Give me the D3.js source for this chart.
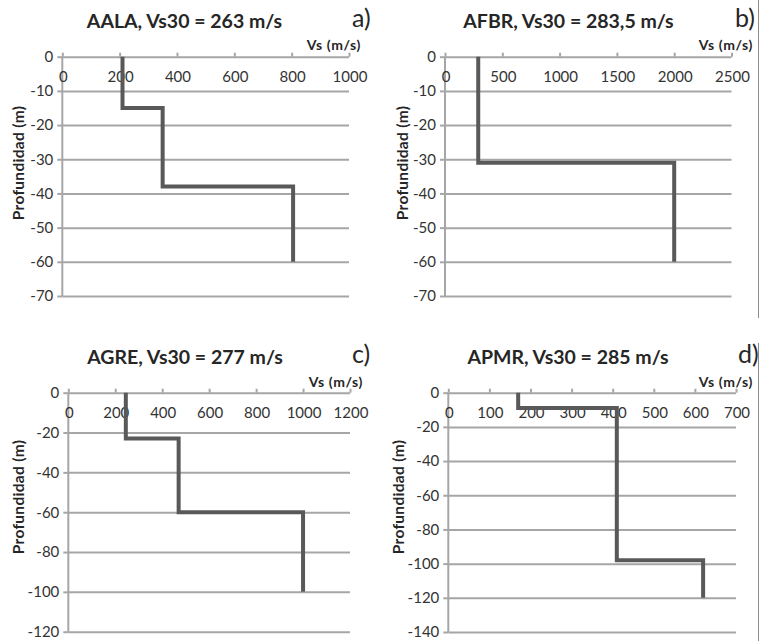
<!DOCTYPE html>
<html><head><meta charset="utf-8">
<script src="https://cdn.jsdelivr.net/npm/d3@7"></script>
<style>
body{margin:0;background:#fff;}
svg{display:block;}
text{font-family:Lato,"Open Sans",sans-serif;}
</style></head>
<body>
<svg id="chart" width="761" height="641"></svg>
<script>
// ---- data ----
const titles = ["AALA, Vs30 = 263 m/s", "AFBR, Vs30 = 283,5 m/s", "AGRE, Vs30 = 277 m/s", "APMR, Vs30 = 285 m/s"];
const panelLetters = ["a)", "b)", "c)", "d)"];
const xAxisTitle = "Vs (m/s)";
const yAxisTitle = "Profundidad (m)";

// layer boundaries (depth, m, negative down) and shear velocities per layer
const aalaDepths = [0, -15, -38, -60];
const aalaVs = [210, 350, 805];
const afbrDepths = [0, -31, -60];
const afbrVs = [290, 2000];
const agreDepths = [0, -23, -60, -100];
const agreVs = [245, 470, 1000];
const apmrDepths = [0, -9, -98, -120];
const apmrVs = [170, 410, 620];

// axis tick values
const xTicksA = [0, 200, 400, 600, 800, 1000];
const xTicksB = [0, 500, 1000, 1500, 2000, 2500];
const xTicksC = [0, 200, 400, 600, 800, 1000, 1200];
const xTicksD = [0, 100, 200, 300, 400, 500, 600, 700];
const yTicksAB = [0, -10, -20, -30, -40, -50, -60, -70];
const yTicksC = [0, -20, -40, -60, -80, -100, -120];
const yTicksD = [0, -20, -40, -60, -80, -100, -120, -140];

// ---- layout ----
const panels = [
  {depths: aalaDepths, vs: aalaVs, xt: xTicksA, yt: yTicksAB, x0: 62.3, x1: 349, y0: 56.7, y1: 296,
   title: [184.5, 28], letter: [352, 27], xlab: [361, 50], ylab: [18, 163]},
  {depths: afbrDepths, vs: afbrVs, xt: xTicksB, yt: yTicksAB, x0: 445, x1: 731.5, y0: 56.7, y1: 296,
   title: [568.5, 28], letter: [735, 27], xlab: [753, 50], ylab: [401.7, 163]},
  {depths: agreDepths, vs: agreVs, xt: xTicksC, yt: yTicksC, x0: 68.3, x1: 350, y0: 392.7, y1: 631.7,
   title: [185, 364], letter: [352, 363], xlab: [363, 387], ylab: [18, 497]},
  {depths: apmrDepths, vs: apmrVs, xt: xTicksD, yt: yTicksD, x0: 448.3, x1: 736, y0: 392.7, y1: 632,
   title: [568, 364], letter: [738, 363], xlab: [753, 387], ylab: [398, 497]}
];

const svg = d3.select("#chart");
const gridColor = "#a6a6a6";
const lineColor = "#595959";
const textColor = "#262626";

panels.forEach((p, i) => {
  const g = svg.append("g");
  const x = d3.scaleLinear().domain(d3.extent(p.xt)).range([p.x0, p.x1]);
  const y = d3.scaleLinear().domain([d3.min(p.yt), 0]).range([p.y1, p.y0]);

  // horizontal gridlines + left ticks (y axis)
  const yAxis = d3.axisLeft(y).tickValues(p.yt).tickSize(-(p.x1 - p.x0)).tickPadding(9).tickFormat(d => String(d));
  const ya = g.append("g").attr("transform", `translate(${p.x0},0)`).call(yAxis);
  ya.select(".domain").remove();
  ya.selectAll(".tick line").attr("stroke", gridColor).attr("stroke-width", 2);
  ya.selectAll(".tick").append("line").attr("x1", -5).attr("x2", 0).attr("stroke", gridColor).attr("stroke-width", 2);
  ya.selectAll(".tick text").attr("fill", "#333").style("font-size", "15px").style("font-family", "Lato, sans-serif");

  // vertical axis line
  g.append("line").attr("x1", p.x0).attr("x2", p.x0).attr("y1", p.y0).attr("y2", p.y1)
    .attr("stroke", gridColor).attr("stroke-width", 2);

  // top x axis ticks
  const xAxis = d3.axisTop(x).tickValues(p.xt).tickSize(4).tickFormat("");
  const xa = g.append("g").attr("transform", `translate(0,${p.y0})`).call(xAxis);
  xa.select(".domain").remove();
  xa.selectAll(".tick line").attr("stroke", gridColor).attr("stroke-width", 2);

  // x tick labels placed inside, below the zero line
  g.selectAll(".xl").data(p.xt).join("text")
    .attr("x", d => x(d) + 1).attr("y", p.y0 + 25)
    .attr("text-anchor", "middle").attr("fill", "#333")
    .style("font-size", "15px").text(d => String(d));

  // step profile
  const pts = [];
  p.vs.forEach((v, k) => { pts.push([v, p.depths[k]]); pts.push([v, p.depths[k + 1]]); });
  const line = d3.line().x(d => x(d[0])).y(d => y(d[1]));
  g.append("path").attr("d", line(pts)).attr("fill", "none")
    .attr("stroke", lineColor).attr("stroke-width", 4).attr("stroke-linejoin", "miter");

  // title
  g.append("text").attr("x", p.title[0]).attr("y", p.title[1]).attr("text-anchor", "middle")
    .attr("fill", textColor).style("font-size", "19.5px").style("font-weight", "bold").text(titles[i]);
  g.append("text").attr("x", p.letter[0]).attr("y", p.letter[1])
    .attr("fill", textColor).style("font-size", "25px").text(panelLetters[i]);
  g.append("text").attr("x", p.xlab[0]).attr("y", p.xlab[1]).attr("text-anchor", "end")
    .attr("fill", textColor).style("font-size", "14px").style("font-weight", "bold")
    .style("letter-spacing", "0.6px").text(xAxisTitle);
  g.append("text").attr("transform", `translate(${p.ylab[0]},${p.ylab[1]}) rotate(-90)`)
    .attr("text-anchor", "middle").attr("dominant-baseline", "central")
    .attr("fill", textColor).style("font-size", "15.5px").style("font-weight", "bold")
    .style("letter-spacing", "0.3px").text(yAxisTitle);
});

// right frame edge lines
svg.append("line").attr("x1", 758.5).attr("x2", 758.5).attr("y1", 0).attr("y2", 318).attr("stroke", "#8c8c8c").attr("stroke-width", 1);
svg.append("line").attr("x1", 758.5).attr("x2", 758.5).attr("y1", 343).attr("y2", 641).attr("stroke", "#8c8c8c").attr("stroke-width", 1);
</script>
</body></html>
